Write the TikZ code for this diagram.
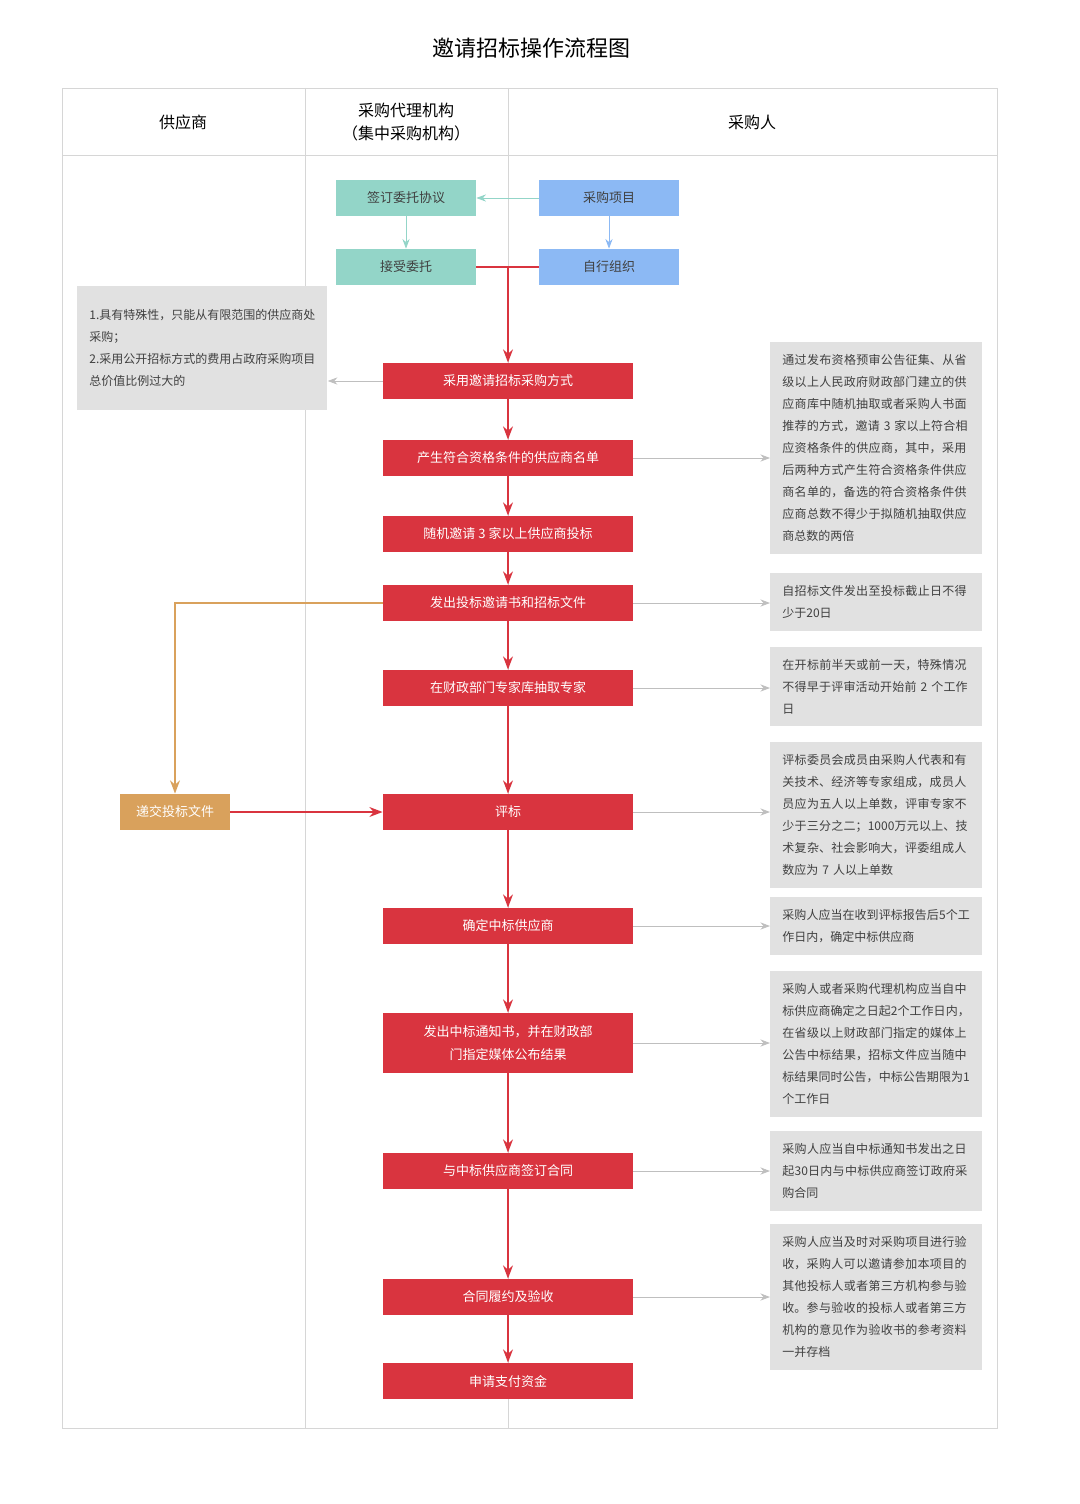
\documentclass[tikz,border=0pt]{standalone}
\usepackage{fontspec}
\setmainfont{Noto Sans CJK SC}
\XeTeXlinebreaklocale "zh"
\XeTeXlinebreakskip = 0pt plus 1pt
\usetikzlibrary{positioning, arrows.meta}
\definecolor{redbox}{HTML}{D9343F}
\definecolor{tealbox}{HTML}{93D5C8}
\definecolor{bluebox}{HTML}{8CB9F4}
\definecolor{graybox}{HTML}{E1E1E1}
\definecolor{orangebox}{HTML}{D9A15C}
\definecolor{frame}{HTML}{D6D6D6}

\begin{document}
\begin{tikzpicture}[x=0.5pt, y=-0.5pt, >=Stealth, font=\fontsize{6.5}{8}\selectfont]
    \tikzset{
        redstep/.style={fill=redbox, text=white, minimum width=125pt, minimum height=18pt, inner sep=0pt, align=center, font=\fontsize{6.5}{11.5}\selectfont},
        tealstep/.style={fill=tealbox, text=black!75, minimum width=70pt, minimum height=18pt, inner sep=0pt},
        bluestep/.style={fill=bluebox, text=black!75, minimum width=70pt, minimum height=18pt, inner sep=0pt},
        note/.style={fill=graybox, text=black!75, text width=94pt, inner sep=6pt, align=left, font=\fontsize{6}{11}\selectfont},
        redline/.style={draw=redbox, ->, thick},
        grayline/.style={draw=black!25, ->},
    }
    \useasboundingbox (0,0) rectangle (1080,1504);

    % title and lanes
    \node (title) at (531,48) {\fontsize{11}{13}\selectfont 邀请招标操作流程图};
    \draw[frame] (62,88) rectangle (997,1428);
    \draw[frame] (62,155) -- (997,155);
    \draw[frame] (305,88) -- (305,1428);
    \draw[frame] (508,88) -- (508,1428);
    \node[font=\fontsize{8}{10}\selectfont] (lane1) at (183,122) {供应商};
    \node[align=center, font=\fontsize{8}{11.5}\selectfont] (lane2) at (406,122) {采购代理机构\\（集中采购机构）};
    \node[font=\fontsize{8}{10}\selectfont] (lane3) at (752,122) {采购人};

    % top boxes
    \node[tealstep] (sign) at (406,198) {签订委托协议};
    \node[tealstep] (accept) at (406,267) {接受委托};
    \node[bluestep] (project) at (609,198) {采购项目};
    \node[bluestep] (self) at (609,267) {自行组织};
    \coordinate (join) at (508,267);

    % main flow
    \node[redstep] (s1) at (508,381) {采用邀请招标采购方式};
    \node[redstep] (s2) at (508,458) {产生符合资格条件的供应商名单};
    \node[redstep] (s3) at (508,534) {随机邀请 3 家以上供应商投标};
    \node[redstep] (s4) at (508,603) {发出投标邀请书和招标文件};
    \node[redstep] (s5) at (508,688) {在财政部门专家库抽取专家};
    \node[redstep] (s6) at (508,812) {评标};
    \node[redstep] (s7) at (508,926) {确定中标供应商};
    \node[redstep, minimum height=30pt] (s8) at (508,1043) {发出中标通知书，并在财政部\\门指定媒体公布结果};
    \node[redstep] (s9) at (508,1171) {与中标供应商签订合同};
    \node[redstep] (s10) at (508,1297) {合同履约及验收};
    \node[redstep] (s11) at (508,1381) {申请支付资金};

    \node[fill=orangebox, text=white, minimum width=55pt, minimum height=18pt, inner sep=0pt] (bid) at (175,812) {递交投标文件};
    \coordinate (turn) at (175,603);

    % notes
    \node[note, text width=113pt, minimum height=62pt, anchor=north west] (n0) at (77,286) {1.具有特殊性，只能从有限范围的供应商处采购；\\2.采用公开招标方式的费用占政府采购项目总价值比例过大的};
    \node[note, anchor=north west] (n1) at (770,342) {通过发布资格预审公告征集、从省级以上人民政府财政部门建立的供应商库中随机抽取或者采购人书面推荐的方式，邀请~3~家以上符合相应资格条件的供应商，其中，采用后两种方式产生符合资格条件供应商名单的，备选的符合资格条件供应商总数不得少于拟随机抽取供应商总数的两倍};
    \node[note, anchor=north west] (n2) at (770,573) {自招标文件发出至投标截止日不得少于20日};
    \node[note, anchor=north west] (n3) at (770,647) {在开标前半天或前一天，特殊情况不得早于评审活动开始前~2~个工作日};
    \node[note, anchor=north west] (n4) at (770,742) {评标委员会成员由采购人代表和有关技术、经济等专家组成，成员人员应为五人以上单数，评审专家不少于三分之二；1000万元以上、技术复杂、社会影响大，评委组成人数应为~7~人以上单数};
    \node[note, anchor=north west] (n5) at (770,897) {采购人应当在收到评标报告后5个工作日内，确定中标供应商};
    \node[note, anchor=north west] (n6) at (770,971) {采购人或者采购代理机构应当自中标供应商确定之日起2个工作日内，在省级以上财政部门指定的媒体上公告中标结果，招标文件应当随中标结果同时公告，中标公告期限为1个工作日};
    \node[note, anchor=north west] (n7) at (770,1131) {采购人应当自中标通知书发出之日起30日内与中标供应商签订政府采购合同};
    \node[note, anchor=north west] (n8) at (770,1224) {采购人应当及时对采购项目进行验收，采购人可以邀请参加本项目的其他投标人或者第三方机构参与验收。参与验收的投标人或者第三方机构的意见作为验收书的参考资料一并存档};

    % connectors
    \draw[->, tealbox] (project) -- (sign);
    \draw[->, tealbox] (sign) -- (accept);
    \draw[->, bluebox] (project) -- (self);
    \draw[redbox, thick] (accept) -- (self);
    \draw[redline] (join) -- (s1);
    \foreach \a/\b in {s1/s2, s2/s3, s3/s4, s4/s5, s5/s6, s6/s7, s7/s8, s8/s9, s9/s10, s10/s11}
        \draw[redline] (\a) -- (\b);
    \draw[grayline] (s1.west) -- (n0.east |- s1.west);
    \foreach \a/\b in {s2/n1, s4/n2, s5/n3, s6/n4, s7/n5, s8/n6, s9/n7, s10/n8}
        \draw[grayline] (\a.east) -- (\b.west |- \a.east);
    \draw[->, orangebox, thick] (s4.west) -- (turn) -- (bid);
    \draw[redline] (bid) -- (s6);
\end{tikzpicture}
\end{document}
